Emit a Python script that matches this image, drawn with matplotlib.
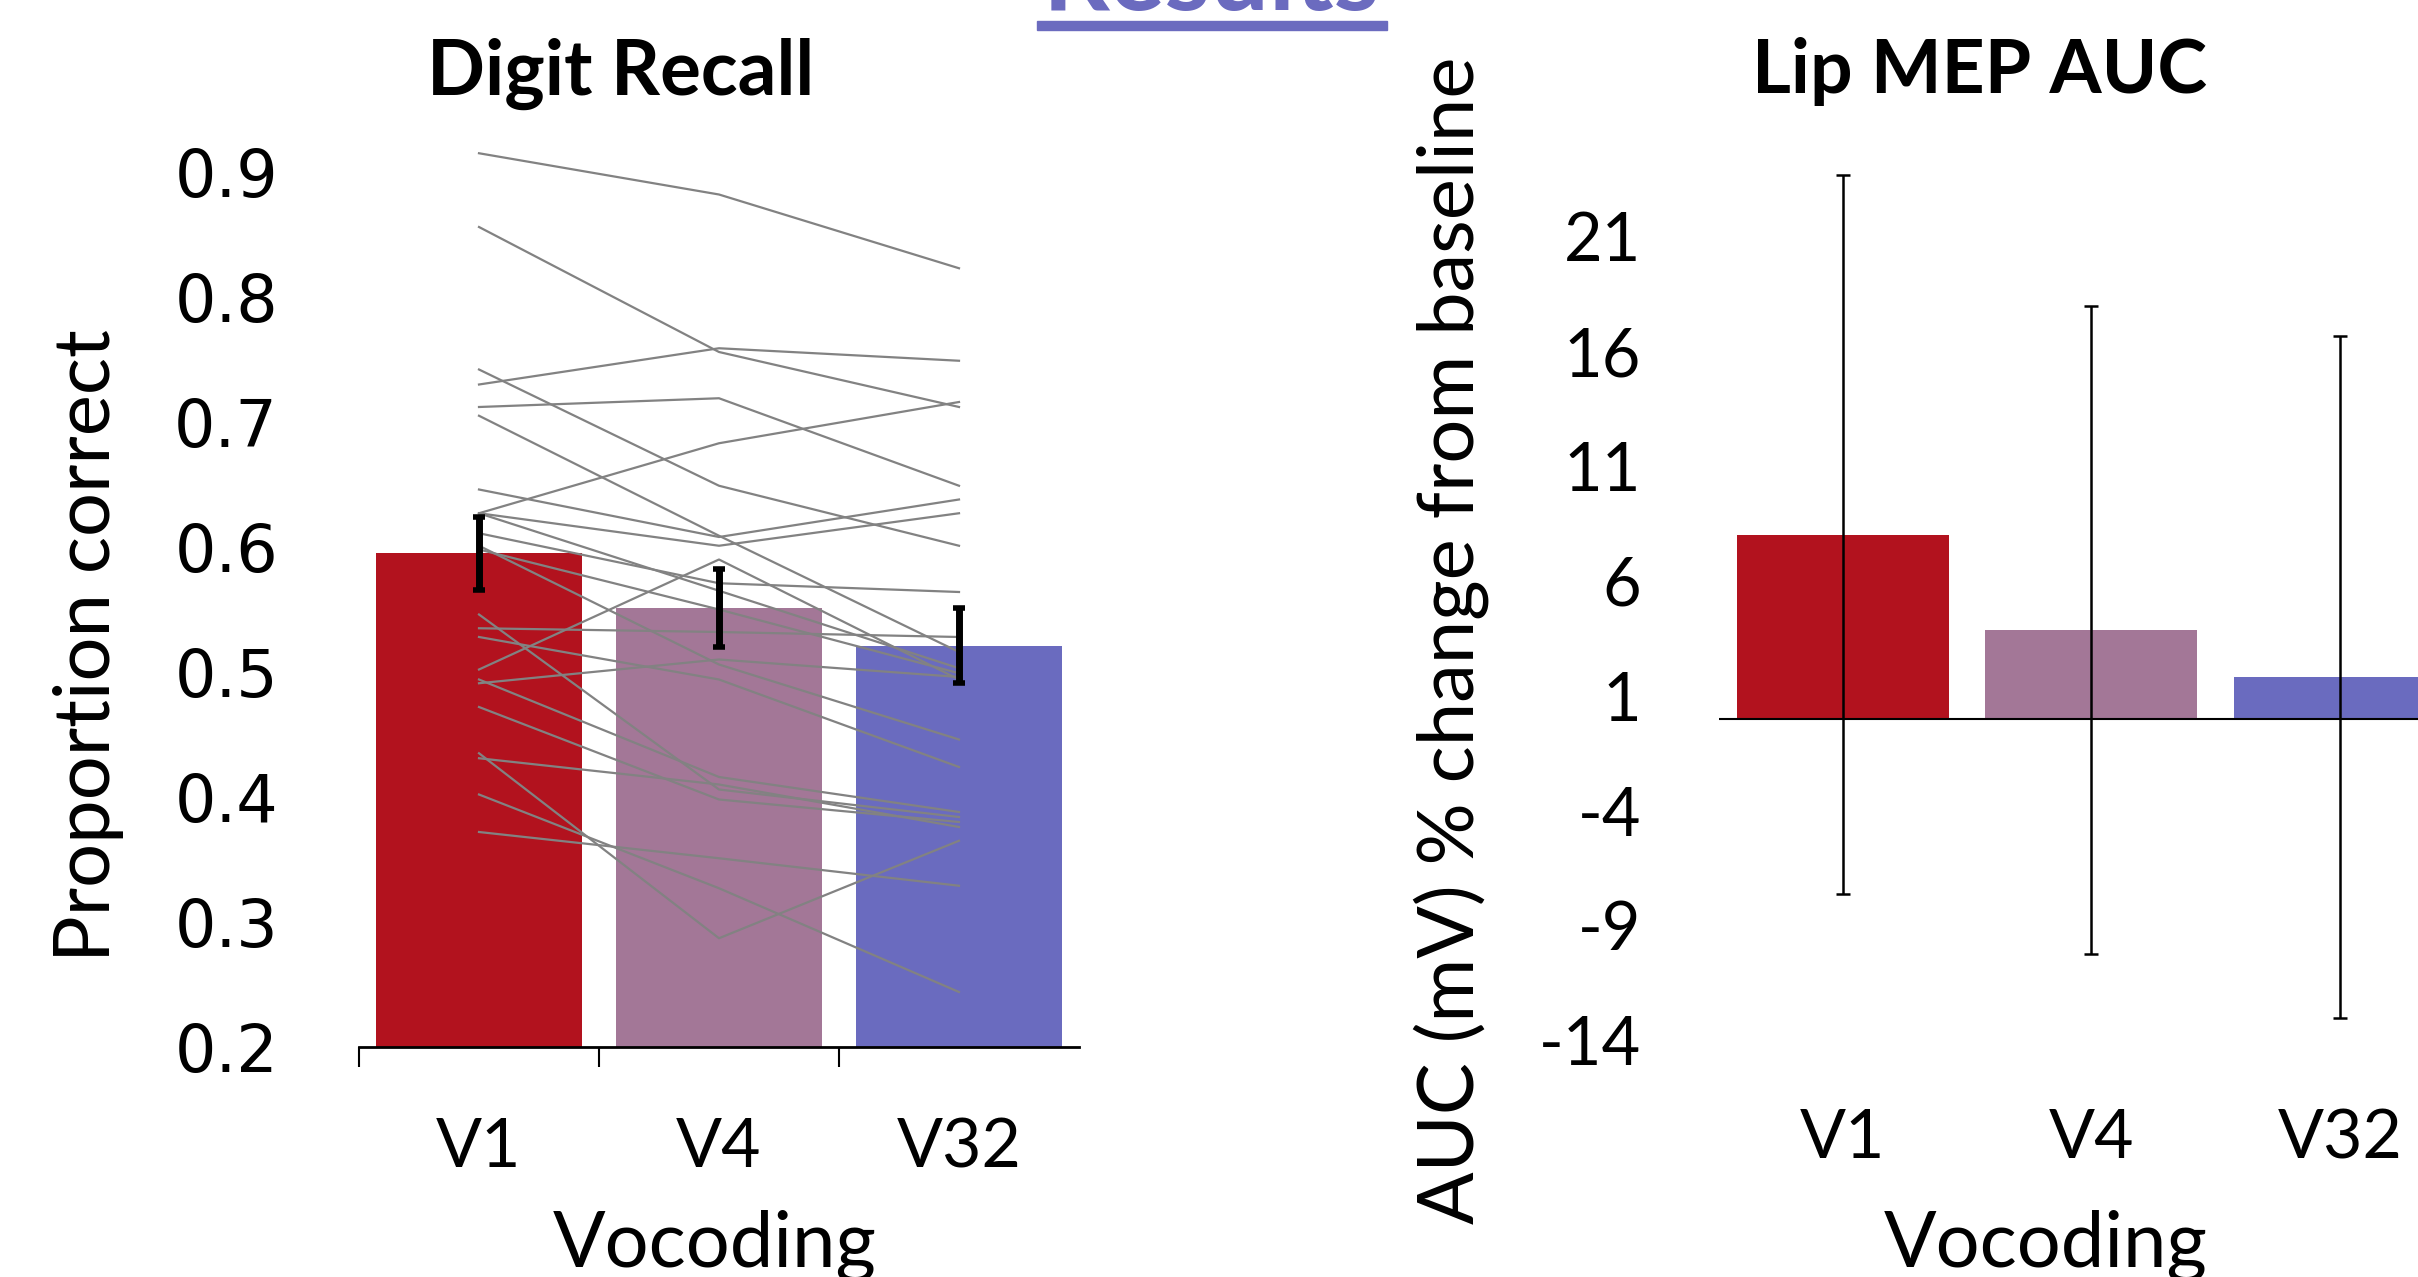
import matplotlib
matplotlib.use("Agg")
import matplotlib.pyplot as plt
from matplotlib.patches import Rectangle

W, H, DPI = 2418, 1277, 100
PX = 72.0 / DPI  # points per pixel

# ---------------- data ----------------
categories = ["V1", "V4", "V32"]
bar_colors = ["#B2121E", "#A37797", "#6A6BBF"]

recall_means = [0.595, 0.551, 0.521]
recall_sem = [0.029, 0.031, 0.030]

subj_v1 = [0.915, 0.856, 0.730, 0.712, 0.742, 0.705, 0.646, 0.627, 0.627, 0.502,
           0.611, 0.546, 0.535, 0.435, 0.402, 0.372, 0.431, 0.491, 0.494, 0.472,
           0.528, 0.601, 0.598, 0.627]
subj_v4 = [0.882, 0.756, 0.759, 0.719, 0.649, 0.609, 0.608, 0.601, 0.683, 0.590,
           0.571, 0.406, 0.532, 0.287, 0.327, 0.351, 0.410, 0.510, 0.416, 0.398,
           0.494, 0.506, 0.550, 0.565]
subj_v32 = [0.823, 0.712, 0.749, 0.649, 0.601, 0.516, 0.638, 0.627, 0.716, 0.494,
            0.564, 0.384, 0.528, 0.365, 0.244, 0.329, 0.376, 0.496, 0.388, 0.380,
            0.424, 0.446, 0.499, 0.503]

recall_ticks = [0.2, 0.3, 0.4, 0.5, 0.6, 0.7, 0.8, 0.9]
recall_ticklabels = ["0.2", "0.3", "0.4", "0.5", "0.6", "0.7", "0.8", "0.9"]

auc_means = [8.0, 3.87, 1.80]
auc_err = [15.65, 14.1, 14.85]
auc_ticks = [-14, -9, -4, 1, 6, 11, 16, 21]
auc_ticklabels = ["-14", "-9", "-4", "1", "6", "11", "16", "21"]

# ---------------- figure ----------------
fig = plt.figure(figsize=(W / DPI, H / DPI), dpi=DPI)
FONT = "Lato"

def fx(px):
    return px / W

def fy(py):
    return 1 - py / H

# ---- left panel: Digit Recall ----
ax1 = fig.add_axes([fx(359), fy(1047), fx(720), (1047 - 109.5) / H])
x = list(range(len(categories)))
ax1.bar(x, recall_means, width=0.86, color=bar_colors, zorder=1)
for a, b, c in zip(subj_v1, subj_v4, subj_v32):
    ax1.plot(x, [a, b, c], color="#828282", lw=1.6, zorder=2)
ax1.errorbar(x, recall_means, yerr=recall_sem, fmt="none", ecolor="black",
             elinewidth=5, capsize=4.5, capthick=4, zorder=3)
ax1.set_xlim(-0.5, 2.5)
ax1.set_ylim(0.2, 0.95)
for s in ["top", "right", "left"]:
    ax1.spines[s].set_visible(False)
ax1.spines["bottom"].set_linewidth(2)
ax1.set_xticks(x)
ax1.set_xticklabels(categories, fontsize=49, family=FONT)
ax1.set_xticks([-0.5, 0.5, 1.5], minor=True)
ax1.tick_params(axis="x", which="major", length=0, pad=70 * PX)
ax1.tick_params(axis="x", which="minor", length=20 * PX, width=1.5, direction="out")
ax1.set_yticks(recall_ticks)
ax1.set_yticklabels(recall_ticklabels, fontsize=47, family="DejaVu Sans")
ax1.tick_params(axis="y", length=0, pad=(359 - 278) * PX)

fig.text(fx(621), fy(95), "Digit Recall", ha="center", va="baseline",
         fontsize=55, fontweight="bold", family=FONT)
fig.text(fx(88), fy(646), "Proportion correct", rotation=90, ha="center",
         va="center", fontsize=56, family=FONT)
fig.text(fx(715), fy(1267), "Vocoding", ha="center", va="baseline",
         fontsize=56, family=FONT)

# ---- right panel: Lip MEP AUC ----
ax2 = fig.add_axes([fx(1718.8), fy(1040.2), fx(745.2), 918.8 / H])
ax2.bar(x, auc_means, width=0.853, color=bar_colors, zorder=1)
ax2.axhline(0, color="black", lw=1.5, zorder=2)
ax2.errorbar(x, auc_means, yerr=auc_err, fmt="none", ecolor="black",
             elinewidth=1.8, capsize=5, capthick=1.8, zorder=3)
ax2.set_xlim(-0.5, 2.5)
ax2.set_ylim(-14, 26)
for s in ["top", "right", "left", "bottom"]:
    ax2.spines[s].set_visible(False)
ax2.set_xticks(x)
ax2.set_xticklabels(categories, fontsize=49, family=FONT)
ax2.tick_params(axis="x", length=0, pad=68 * PX)
ax2.set_yticks(auc_ticks)
ax2.set_yticklabels(auc_ticklabels, fontsize=48, family=FONT)
ax2.tick_params(axis="y", length=0, pad=(1718.8 - 1641) * PX)

fig.text(fx(1979), fy(93), "Lip MEP AUC", ha="center", va="baseline",
         fontsize=54, fontweight="bold", family=FONT)
fig.text(fx(1451), fy(640), "AUC (mV) % change from baseline", rotation=90,
         ha="center", va="center", fontsize=56, family=FONT)
fig.text(fx(2046), fy(1267), "Vocoding", ha="center", va="baseline",
         fontsize=56, family=FONT)

# ---- cropped slide heading ----
fig.text(fx(1211), fy(10), "Results", ha="center", va="baseline",
         fontsize=75, fontweight="bold", color="#6B6BBF", family=FONT)
fig.patches.append(Rectangle((fx(1037), fy(30)), fx(350), 9 / H,
                             transform=fig.transFigure, color="#6B6BBF"))

fig.savefig("out.png", dpi=DPI)
